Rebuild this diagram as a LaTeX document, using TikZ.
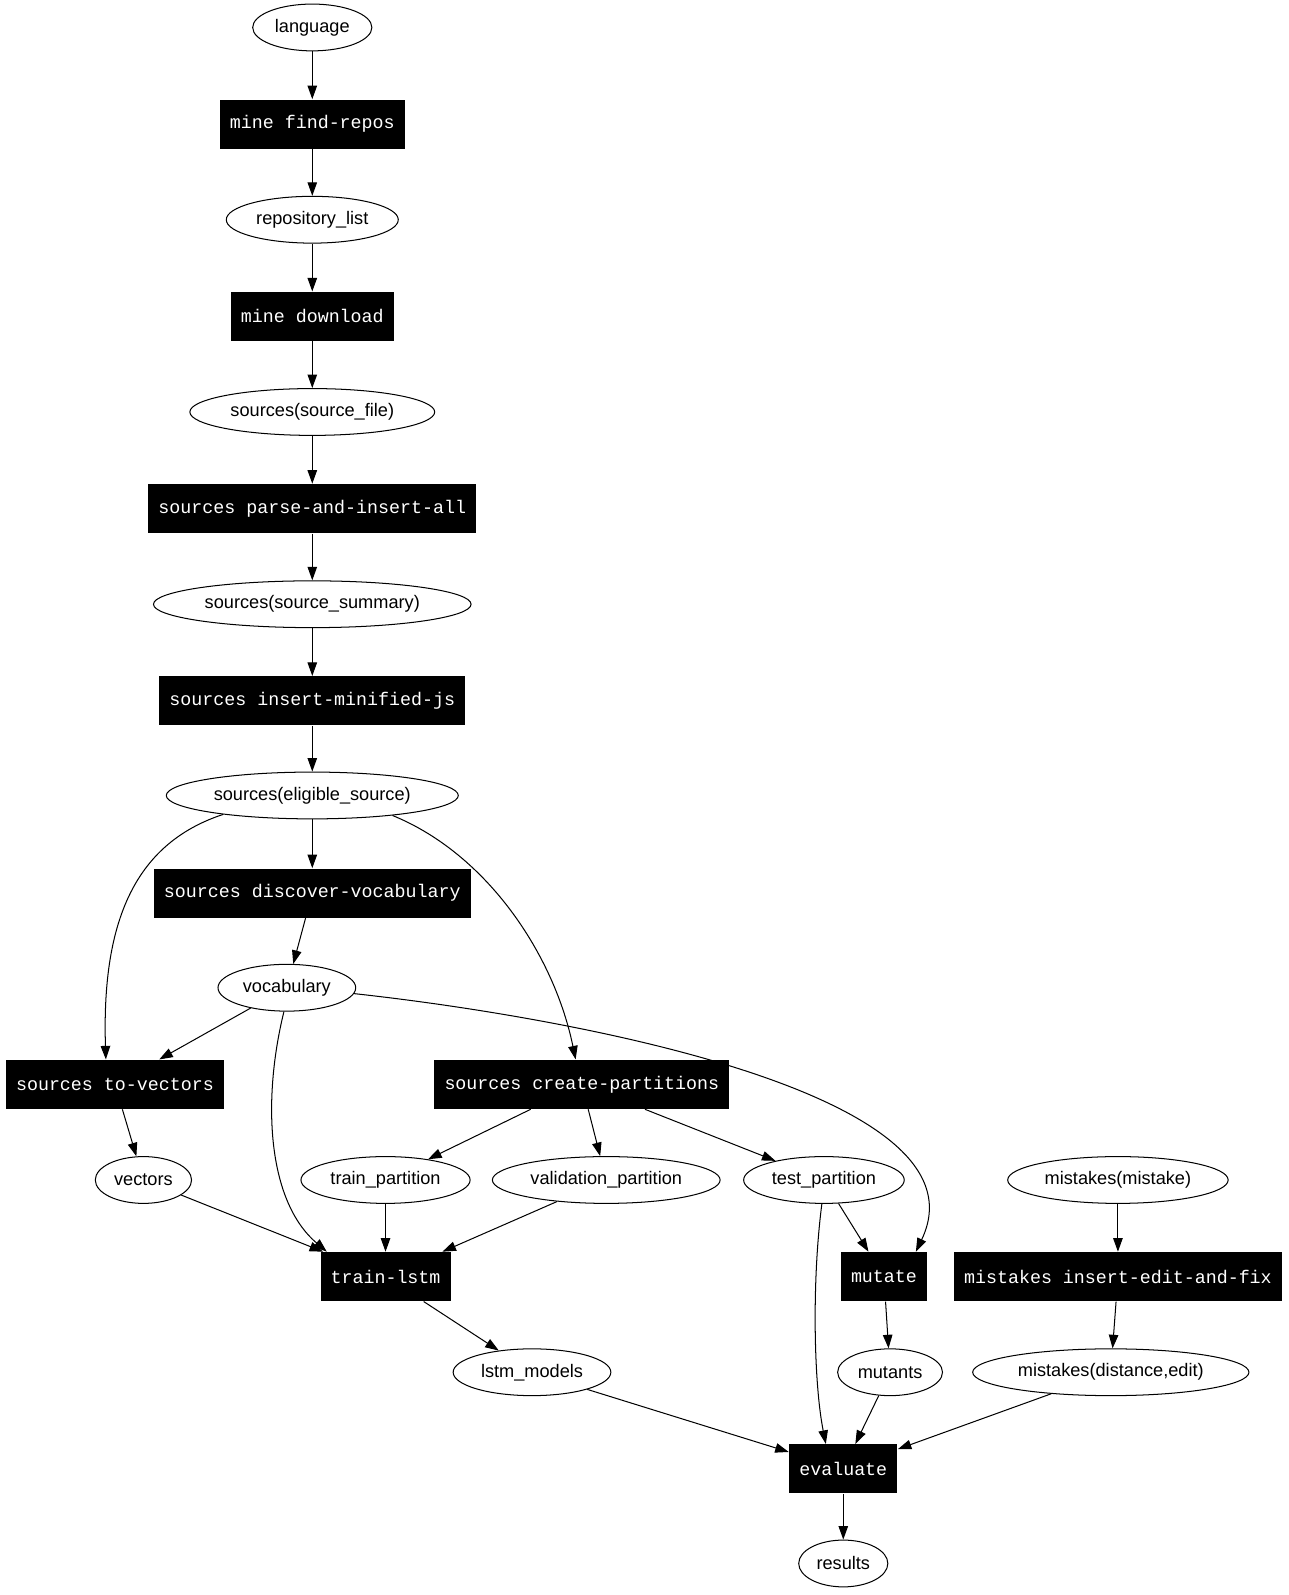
\documentclass[tikz,border=0pt]{standalone}
\usepackage{fontspec}
\setmainfont{Liberation Sans}
\setmonofont{Liberation Mono}
\usetikzlibrary{arrows.meta,shapes}

\begin{document}
\begin{tikzpicture}[x = 0.75pt, y = -0.75pt, data/.style = {ellipse, draw, inner xsep = 3.5pt, inner ysep = 0pt, minimum height = 34.5pt, font = \fontsize{13.4}{16}\selectfont}, task/.style = {rectangle, fill = black, text = white, inner xsep = 7.4pt, minimum height = 36pt, font = \ttfamily\fontsize{13.5}{16}\selectfont}, >={Triangle[length = 10pt, width = 7pt]}, line width = 0.75pt]
	\useasboundingbox (0,0) rectangle (1267,1568);

	\node[data](lang) at (307,27){language};
	\node[task](findrepos) at (307,122){mine find-repos};
	\node[data](repolist) at (307,216){repository\_list};
	\node[task](download) at (307,311){mine download};
	\node[data](srcfile) at (307,405){sources(source\_file)};
	\node[task](parseall) at (307,500){sources parse-and-insert-all};
	\node[data](srcsummary) at (307,594){sources(source\_summary)};
	\node[task](minified) at (307,689){sources insert-minified-js};
	\node[data](eligible) at (307,782){sources(eligible\_source)};
	\node[task](discover) at (307,878){sources discover-vocabulary};
	\node[data](vocab) at (282,971){vocabulary};
	\node[task](tovectors) at (113,1066){sources to-vectors};
	\node[task](partitions) at (572,1066){sources create-partitions};
	\node[data](vectors) at (141,1160){vectors};
	\node[data](trainpart) at (379,1160){train\_partition};
	\node[data](validpart) at (596,1160){validation\_partition};
	\node[data](testpart) at (810,1160){test\_partition};
	\node[data](mistake) at (1099,1160){mistakes(mistake)};
	\node[task](trainlstm) at (379,1255){train-lstm};
	\node[task](mutate) at (869,1255){mutate};
	\node[task](insertfix) at (1099,1255){mistakes insert-edit-and-fix};
	\node[data](lstmmodels) at (523,1349){lstm\_models};
	\node[data](mutants) at (875,1349){mutants};
	\node[data](distedit) at (1092,1349){mistakes(distance,edit)};
	\node[task](evaluate) at (829,1444){evaluate};
	\node[data](results) at (829,1537){results};

	\path[->](lang) edge (findrepos);
	\path[->](findrepos) edge (repolist);
	\path[->](repolist) edge (download);
	\path[->](download) edge (srcfile);
	\path[->](srcfile) edge (parseall);
	\path[->](parseall) edge (srcsummary);
	\path[->](srcsummary) edge (minified);
	\path[->](minified) edge (eligible);
	\path[->](eligible) edge (discover);
	\path[->](discover) edge (vocab);
	\path[->](vocab) edge (tovectors);
	\path[->](tovectors) edge (vectors);
	\path[->](partitions) edge (trainpart);
	\path[->](partitions) edge (validpart);
	\path[->](partitions) edge (testpart);
	\path[->](vectors) edge (trainlstm);
	\path[->](trainpart) edge (trainlstm);
	\path[->](validpart) edge (trainlstm);
	\path[->](testpart) edge (mutate);
	\path[->](mistake) edge (insertfix);
	\path[->](insertfix) edge (distedit);
	\path[->](mutate) edge (mutants);
	\path[->](trainlstm) edge (lstmmodels);
	\path[->](lstmmodels) edge (evaluate);
	\path[->](mutants) edge (evaluate);
	\path[->](distedit) edge (evaluate);
	\path[->](evaluate) edge (results);

	% curved ones
	\draw[->](eligible.192) .. controls (130,830) and (100,910) .. (tovectors.110);
	\draw[->](eligible.-14) .. controls (480,840) and (545,940) .. (partitions.104);
	\draw[->](vocab.-97) .. controls (258,1080) and (262,1180) .. (trainlstm.157);
	\draw[->](vocab.-5) .. controls (560,1000) and (975,1075) .. (mutate.38);
	\draw[->](testpart.-95) .. controls (798,1260) and (800,1360) .. (evaluate.125);

\end{tikzpicture}
\end{document}
